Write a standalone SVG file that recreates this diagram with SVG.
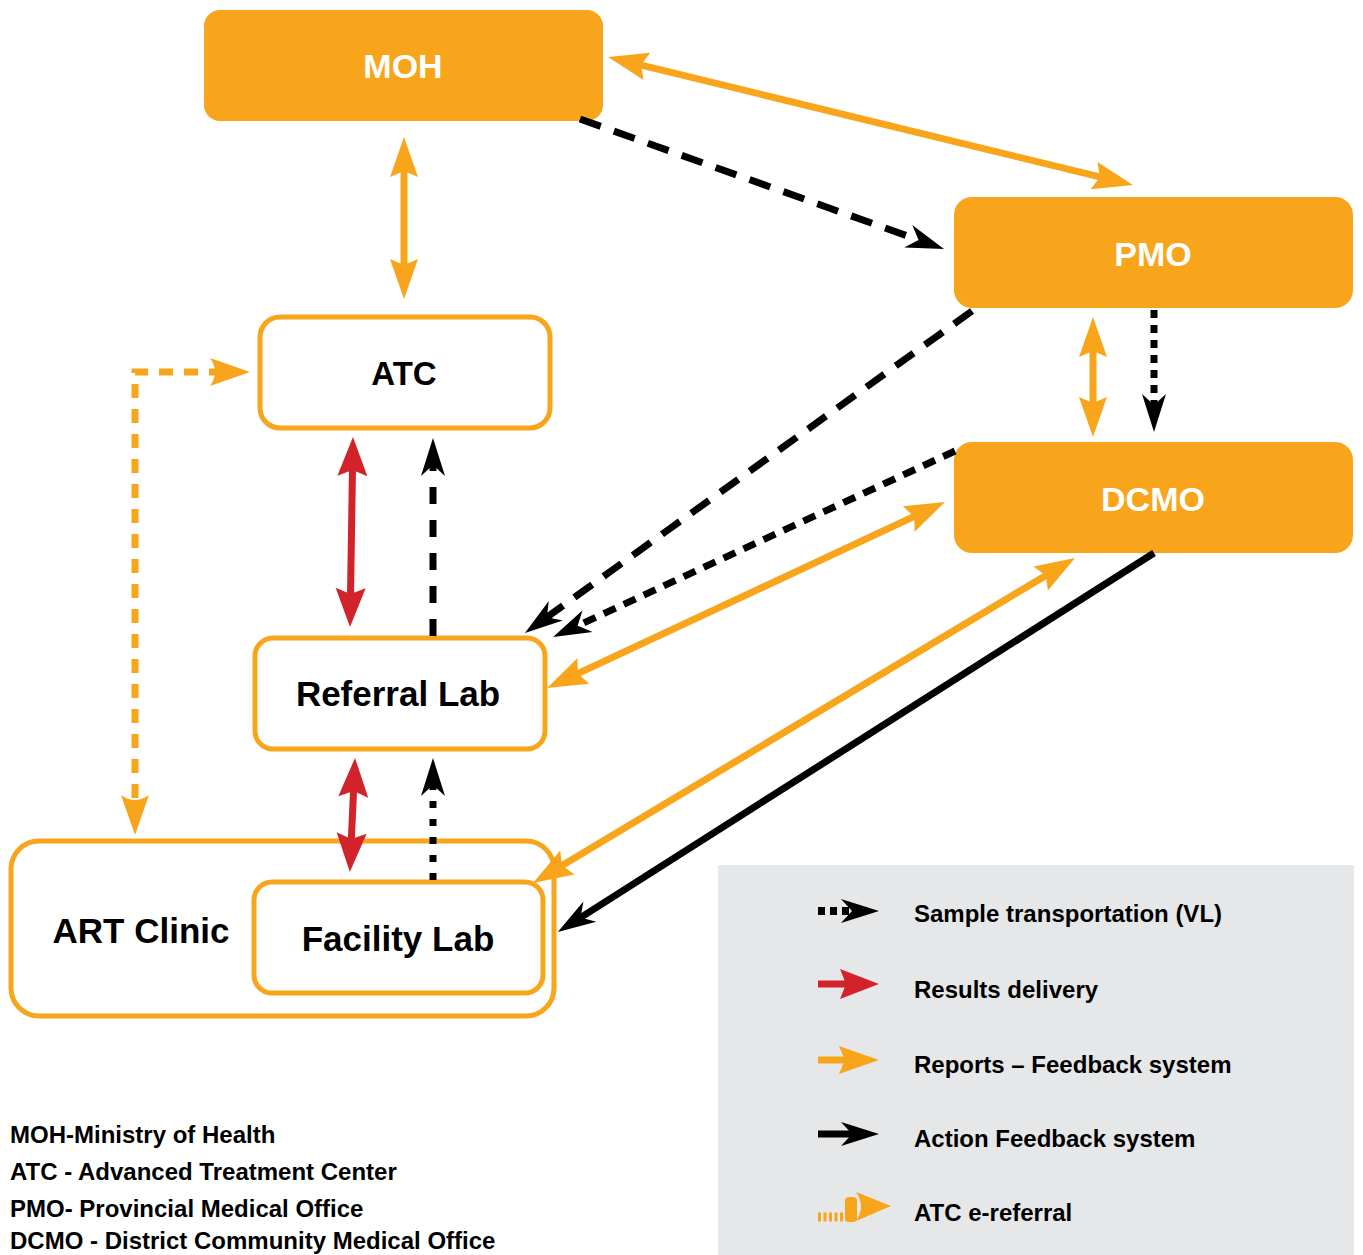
<svg xmlns="http://www.w3.org/2000/svg" width="1363" height="1255" viewBox="0 0 1363 1255">
<style>
text{font-family:"Liberation Sans",Arial,sans-serif;font-weight:bold}
.fill{fill:#F8A51C}
.out{fill:#fff;stroke:#F8A51C;stroke-width:5}
.wt{fill:#fff;font-size:34px;text-anchor:middle}
.bt{fill:#000;font-size:35px;text-anchor:middle}
.or{stroke:#F8A51C;stroke-width:7;fill:none}
.rd{stroke:#D2232A;stroke-width:7;fill:none}
.kd{stroke:#000;stroke-width:7;fill:none}
.lg{font-size:24px;fill:#000}
.ab{font-size:24px;fill:#000}
</style>
<defs>
<marker id="hO" viewBox="-30 -16 44 32" markerWidth="44" markerHeight="32" refX="0" refY="0" orient="auto-start-reverse" markerUnits="userSpaceOnUse"><path d="M12,0 L-28,-14 L-22,0 L-28,14 Z" fill="#F8A51C"/></marker>
<marker id="hR" viewBox="-30 -16 44 32" markerWidth="44" markerHeight="32" refX="0" refY="0" orient="auto-start-reverse" markerUnits="userSpaceOnUse"><path d="M12,0 L-27,-15 L-21,0 L-27,15 Z" fill="#D2232A"/></marker>
<marker id="hK" viewBox="-30 -16 44 32" markerWidth="44" markerHeight="32" refX="0" refY="0" orient="auto-start-reverse" markerUnits="userSpaceOnUse"><path d="M12,0 L-26,-12 L-15,0 L-26,12 Z" fill="#000"/></marker>
<marker id="hE" viewBox="-30 -16 44 32" markerWidth="44" markerHeight="32" refX="0" refY="0" orient="auto-start-reverse" markerUnits="userSpaceOnUse"><path d="M12,0 L-28,-14 Q-18,0 -28,14 Z" fill="#F8A51C"/></marker>
</defs>

<rect x="718" y="865" width="636" height="390" fill="#E6E7E8"/>

<g id="MOH"><rect class="fill" x="204" y="10" width="399" height="111" rx="16"/><text class="wt" x="403" y="78">MOH</text></g>
<g id="PMO"><rect class="fill" x="954" y="197" width="399" height="111" rx="18"/><text class="wt" x="1153" y="266">PMO</text></g>
<g id="DCMO"><rect class="fill" x="954" y="442" width="399" height="111" rx="18"/><text class="wt" x="1153" y="511">DCMO</text></g>
<g id="ATC"><rect class="out" x="260" y="317" width="290" height="111" rx="20"/><text class="bt" x="404" y="385" style="font-size:33px">ATC</text></g>
<g id="ReferralLab"><rect class="out" x="255" y="638" width="290" height="111" rx="18"/><text class="bt" x="398" y="706">Referral Lab</text></g>
<g id="ARTClinic"><rect class="out" x="11" y="841" width="543" height="175" rx="28"/><text class="bt" x="141" y="943">ART Clinic</text></g>
<g id="FacilityLab"><rect class="out" x="254" y="882" width="289" height="111" rx="18"/><text class="bt" x="398" y="951">Facility Lab</text></g>

<g id="connectors">
<line class="or" x1="619.7" y1="59.8" x2="1121.3" y2="182.2" marker-start="url(#hO)" marker-end="url(#hO)"/>
<line class="kd" x1="580" y1="119" x2="932.7" y2="245" stroke-dasharray="22 14" marker-end="url(#hK)"/>
<line class="or" x1="404" y1="149" x2="404" y2="287" marker-start="url(#hO)" marker-end="url(#hO)"/>
<line class="kd" x1="972" y1="311" x2="534.7" y2="626" stroke-dasharray="22 14" marker-end="url(#hK)"/>
<line class="kd" x1="1154" y1="310" x2="1154" y2="420" stroke-width="8" stroke-dasharray="8 7" marker-end="url(#hK)"/>
<line class="or" x1="1093" y1="329" x2="1093" y2="425" marker-start="url(#hO)" marker-end="url(#hO)"/>
<line class="kd" x1="955" y1="451" x2="564" y2="632" stroke-dasharray="13 9" marker-end="url(#hK)"/>
<line class="or" x1="557.9" y1="682.9" x2="934.1" y2="507.1" marker-start="url(#hO)" marker-end="url(#hO)"/>
<line class="or" x1="1064.7" y1="564.2" x2="543.3" y2="876.8" marker-start="url(#hO)" marker-end="url(#hO)"/>
<line class="kd" x1="1154" y1="553" x2="567.9" y2="925.6" stroke-width="6" marker-end="url(#hK)"/>
<line class="rd" x1="352.8" y1="449" x2="350.2" y2="615" marker-start="url(#hR)" marker-end="url(#hR)"/>
<line class="kd" x1="433" y1="636" x2="433" y2="450" stroke-width="8" stroke-dasharray="17 16" marker-end="url(#hK)"/>
<line class="rd" x1="354.5" y1="770" x2="350.4" y2="860" marker-start="url(#hR)" marker-end="url(#hR)"/>
<line class="kd" x1="433" y1="880" x2="433" y2="770" stroke-width="8" stroke-dasharray="7 11" marker-end="url(#hK)"/>
<path class="or" d="M135,823 V372 H238" stroke-width="9" stroke-dasharray="14 11" marker-start="url(#hE)" marker-end="url(#hE)"/>
</g>

<g id="legend">
<line x1="818" y1="911" x2="867" y2="911" stroke="#000" stroke-width="8" stroke-dasharray="7 5" marker-end="url(#hK)"/>
<text class="lg" x="914" y="922">Sample transportation (VL)</text>
<line class="rd" x1="818" y1="984" x2="867" y2="984" stroke-width="8" marker-end="url(#hR)"/>
<text class="lg" x="914" y="998">Results delivery</text>
<line class="or" x1="818" y1="1060" x2="867" y2="1060" stroke-width="6" marker-end="url(#hO)"/>
<text class="lg" x="914" y="1073">Reports – Feedback system</text>
<line class="kd" x1="818" y1="1134" x2="867" y2="1134" stroke-width="8" marker-end="url(#hK)"/>
<text class="lg" x="914" y="1147">Action Feedback system</text>
<line x1="818" y1="1217" x2="846" y2="1217" stroke="#F8A51C" stroke-width="9" stroke-dasharray="3 2.5"/>
<rect x="845" y="1197" width="12" height="25" rx="4" fill="#F8A51C"/>
<path d="M891,1206 L856,1192 Q866,1206 856,1221 Z" fill="#F8A51C"/>
<text class="lg" x="914" y="1221">ATC e-referral</text>
</g>

<g id="abbreviations">
<text class="ab" x="10" y="1143">MOH-Ministry of Health</text>
<text class="ab" x="10" y="1180">ATC - Advanced Treatment Center</text>
<text class="ab" x="10" y="1217">PMO- Provincial Medical Office</text>
<text class="ab" x="10" y="1249">DCMO - District Community Medical Office</text>
</g>
</svg>
